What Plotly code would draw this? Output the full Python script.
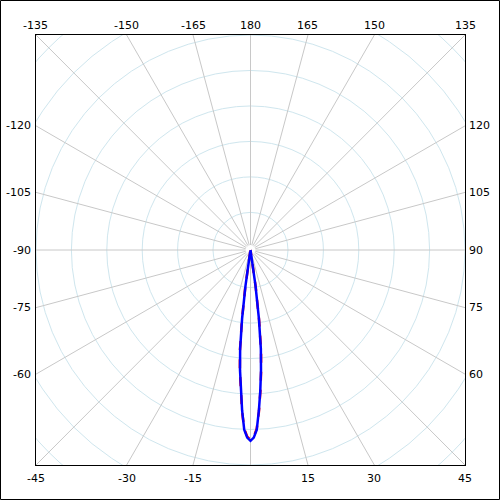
import numpy as np
import plotly.graph_objects as go

# radial unit = one grid ring; angle 0 points down, +90 to the right
SPOKE_ANGLES = list(range(-180, 180, 15))
RINGS = [1, 2, 3, 4, 5, 6, 7, 8]
LABEL_ANGLES = [-135, -150, -165, 180, 165, 150, 135,
                -120, -105, -90, -75, -60,
                120, 105, 90, 75, 60,
                -45, -30, -15, 15, 30, 45]

# beam pattern (deg, radius in ring units)
LOBE_DEG = [-10, -9, -8, -7, -6, -5, -4, -3, -2, -1, 0, 1, 2, 3, 4, 5, 6, 7, 8, 9, 10]
LOBE_BLUE = [0.05, 0.48, 1.02, 1.95, 2.80, 3.40, 3.97, 4.53, 5.07, 5.29, 5.38,
             5.29, 5.07, 4.53, 3.97, 3.40, 2.80, 1.95, 1.02, 0.48, 0.05]
LOBE_RED = [0.05, 0.52, 1.08, 2.00, 2.86, 3.44, 4.00, 4.56, 5.04, 5.26, 5.35,
            5.26, 5.04, 4.56, 4.00, 3.44, 2.86, 2.00, 1.08, 0.52, 0.05]

RING_OFF = 0.06
HOLE = 0.14
R = 6.06          # half width of the square plot area

W, H = 500, 500
ML, MR, MT, MB = 36, 35, 35, 35


def to_xy(deg, r):
    t = np.radians(np.asarray(deg, dtype=float))
    r = np.asarray(r, dtype=float)
    return r * np.sin(t), -r * np.cos(t)


fig = go.Figure()

# rings
for rr in RINGS:
    rad = rr + RING_OFF
    fig.add_shape(type="circle", xref="x", yref="y",
                  x0=-rad, y0=-rad, x1=rad, y1=rad,
                  line=dict(color="#cfe6ee", width=1), layer="below")

# spokes
sx, sy = [], []
for a in SPOKE_ANGLES:
    x, y = to_xy([a, a], [HOLE, 12])
    sx += list(x) + [None]
    sy += list(y) + [None]
fig.add_trace(go.Scatter(x=sx, y=sy, mode="lines",
                         line=dict(color="#c8c8c8", width=1),
                         hoverinfo="skip", showlegend=False))

# lobes
rx, ry = to_xy(LOBE_DEG, LOBE_RED)
fig.add_trace(go.Scatter(x=list(rx) + [0], y=list(ry) + [0], mode="lines",
                         line=dict(color="#ff0000", width=2.5, dash="dash"),
                         showlegend=False))
bx, by = to_xy(LOBE_DEG, LOBE_BLUE)
fig.add_trace(go.Scatter(x=list(bx) + [0], y=list(by) + [0], mode="lines",
                         line=dict(color="#0000ff", width=2.5),
                         showlegend=False))

# angle labels at the border (paper coords so corners are not dropped)
for a in LABEL_ANGLES:
    dx, dy = to_xy(a, 1.0)
    dx, dy = float(dx), float(dy)
    if abs(dx) > abs(dy) + 1e-9:
        s = R / abs(dx)
        if dx < 0:
            kw = dict(xanchor="right", yanchor="middle", xshift=-3)
        else:
            kw = dict(xanchor="left", yanchor="middle", xshift=2)
    else:
        s = R / abs(dy)
        if dy > 0:
            kw = dict(xanchor="center", yanchor="middle", yshift=10)
        else:
            kw = dict(xanchor="center", yanchor="middle", yshift=-13)
    px, py = dx * s / (2 * R) + 0.5, dy * s / (2 * R) + 0.5
    fig.add_annotation(x=px, y=py, xref="paper", yref="paper", text=str(a),
                       showarrow=False, font=dict(size=11, color="black"), **kw)

# outer frame of the whole picture
pw, ph = W - ML - MR, H - MT - MB
fig.add_shape(type="rect", xref="paper", yref="paper",
              x0=-(ML - 0.5) / pw, x1=1 + (MR - 0.5) / pw,
              y0=-(MB - 0.5) / ph, y1=1 + (MT - 0.5) / ph,
              line=dict(color="black", width=1))

fig.update_xaxes(range=[-R, R], showgrid=False, zeroline=False, showticklabels=False,
                 ticks="", showline=True, mirror=True, linecolor="black", linewidth=1)
fig.update_yaxes(range=[-R, R], showgrid=False, zeroline=False, showticklabels=False,
                 ticks="", showline=True, mirror=True, linecolor="black", linewidth=1)
fig.update_layout(
    width=W, height=H,
    margin=dict(l=ML, r=MR, t=MT, b=MB),
    paper_bgcolor="white", plot_bgcolor="white",
    font=dict(family="DejaVu Sans", size=11, color="black"),
    showlegend=False,
)

fig.write_html("out.html", config={"displayModeBar": False},
               post_script="document.body.style.margin='0';")
